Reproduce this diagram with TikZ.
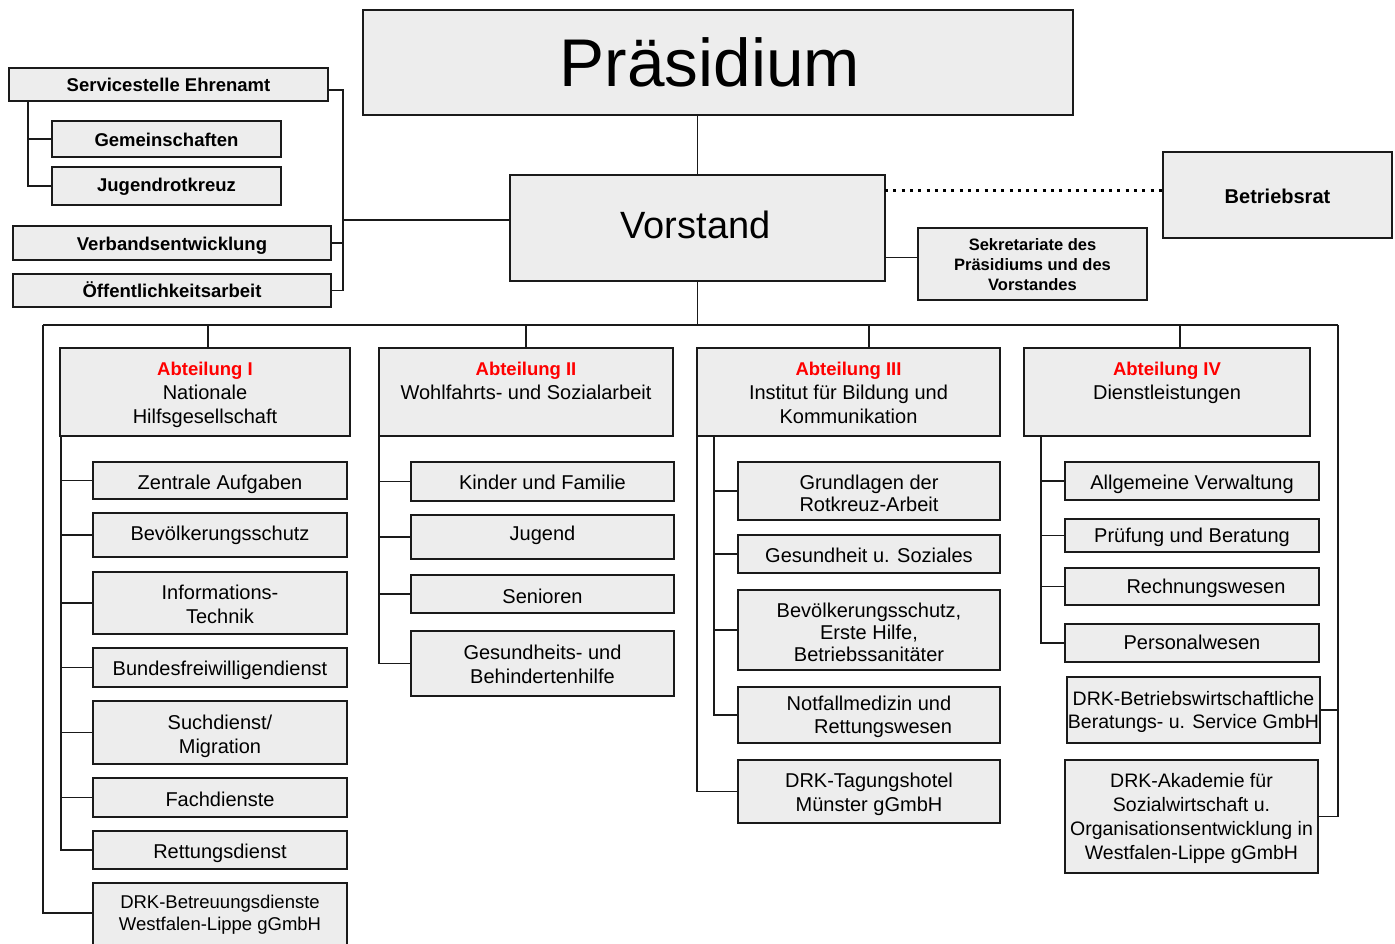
\documentclass[tikz,border=0pt]{standalone}
\usepackage{fontspec}
\setmainfont{Liberation Sans}
\definecolor{boxfill}{HTML}{EDEDED}
\definecolor{edge}{HTML}{1A1A1A}
\definecolor{abtred}{HTML}{FF0000}
\newcommand{\abtl}[1]{{\color{abtred}\bfseries\fontsize{18.5}{24}\selectfont #1}}
\newcommand{\xtop}{\rule{0pt}{\tsH pt}}
\newcommand{\xbot}{\rule[-\tsD pt]{0pt}{0pt}}
\begin{document}
\begin{tikzpicture}[x=1pt,y=-1pt,
  toff/.code={\pgfmathsetmacro\tsH{22+#1}\pgfmathsetmacro\tsD{7.6-#1}},
  box/.style={draw=edge, fill=boxfill, line width=1.8pt, inner sep=0pt, outer sep=0pt, align=center, text=black, toff=1.5},
  wh/.style 2 args={minimum width=#1pt, minimum height=#2pt},
  conn/.style={draw=edge, line width=1.3pt},
  dotline/.style={draw=black, line width=3pt, dash pattern=on 3pt off 5.3pt},
  fsub/.style={font=\fontsize{20}{24}\selectfont},
  fsubs/.style={font=\fontsize{19.5}{23}\selectfont},
  fbold/.style={font=\bfseries\fontsize{18.5}{22}\selectfont},
]
\useasboundingbox (0,0) rectangle (1395,943);
\fill[white] (0,0) rectangle (1395,943);
\clip (0,0) rectangle (1395,943);

% top level
\node[box, wh={710}{105}, font=\fontsize{67.5}{70}\selectfont] (praes) at (718,62.5) {\hspace*{-16pt}Präsidium};
\node[box, wh={375}{106}, font=\fontsize{38}{42}\selectfont] (vorst) at (697.5,228) {\rule{0pt}{28pt}\hspace*{-4pt}Vorstand\rule[-6.4pt]{0pt}{0pt}};
\node[box, wh={229}{86}, font=\bfseries\fontsize{20}{24}\selectfont] (betr) at (1277.5,195) {\xtop Betriebsrat\xbot};
\node[box, wh={229}{72}, toff=-0.3, font=\bfseries\fontsize{16.5}{20}\selectfont] (sekr) at (1032.5,264) {\xtop Sekretariate des\\Präsidiums und des\\Vorstandes\xbot};

% left staff group
\node[box, wh={319}{33}, toff=0, fbold] (serv) at (168.5,84.5) {\xtop Servicestelle Ehrenamt\xbot};
\node[box, wh={229}{36}, toff=0.4, fbold] (gem) at (166.5,139) {\xtop Gemeinschaften\xbot};
\node[box, wh={229}{38}, toff=-1.6, fbold] (jrk) at (166.5,186) {\xtop Jugendrotkreuz\xbot};
\node[box, wh={318}{34}, toff=0.4, fbold] (verb) at (172,243) {\xtop Verbandsentwicklung\xbot};
\node[box, wh={318}{33}, toff=0, fbold] (oeff) at (172,290.5) {\xtop Öffentlichkeitsarbeit\xbot};

% departments
\node[box, wh={290}{88}, toff=0.7, fsub] (a1) at (205,392) {\xtop\abtl{Abteilung I}\\Nationale\\Hilfsgesellschaft\xbot};
\node[box, wh={294}{88}, toff=0.7, fsub] (a2) at (526,392) {\xtop\abtl{Abteilung II}\\Wohlfahrts- und Sozialarbeit\\\xbot};
\node[box, wh={303}{88}, toff=0.7, fsub] (a3) at (848.5,392) {\xtop\abtl{Abteilung III}\\Institut für Bildung und\\Kommunikation\xbot};
\node[box, wh={286}{88}, toff=0.7, fsub] (a4) at (1167,392) {\xtop\abtl{Abteilung IV}\\Dienstleistungen\\\xbot};

% Abteilung I
\node[box, wh={254}{37}, fsub] (z1) at (220,480.5) {\xtop Zentrale Aufgaben\xbot};
\node[box, wh={254}{44}, toff=-1.5, fsub] (z2) at (220,535) {\xtop Bevölkerungsschutz\xbot};
\node[box, wh={254}{62}, toff=1, fsub] (z3) at (220,603) {\xtop Informations-\\Technik\xbot};
\node[box, wh={254}{39}, toff=0.5, fsub] (z4) at (220,667.5) {\xtop Bundesfreiwilligendienst\xbot};
\node[box, wh={254}{63}, fsub] (z5) at (220,732.5) {\xtop Suchdienst/\\Migration\xbot};
\node[box, wh={254}{39}, fsub] (z6) at (220,797.5) {\xtop Fachdienste\xbot};
\node[box, wh={254}{38}, toff=1, fsub] (z7) at (220,850) {\xtop Rettungsdienst\xbot};
\node[box, wh={254}{66}, toff=-3.6, font=\fontsize{18.5}{22}\selectfont] (z8) at (220,916) {\xtop DRK-Betreuungsdienste\\Westfalen-Lippe gGmbH\xbot};

% Abteilung II
\node[box, wh={263}{39}, toff=0.5, fsub] (k1) at (542.5,481.5) {\xtop Kinder und Familie\xbot};
\node[box, wh={263}{44}, toff=-4, fsub] (k2) at (542.5,537) {\xtop Jugend\xbot};
\node[box, wh={263}{38}, toff=2, fsub] (k3) at (542.5,594) {\xtop Senioren\xbot};
\node[box, wh={263}{65}, toff=1, fsub] (k4) at (542.5,663.5) {\xtop Gesundheits- und\\Behindertenhilfe\xbot};

% Abteilung III
\node[box, wh={262}{58}, toff=2, font=\fontsize{20}{22}\selectfont] (g1) at (869,491) {\xtop Grundlagen der\\Rotkreuz-Arbeit\xbot};
\node[box, wh={262}{38}, toff=1, fsub] (g2) at (869,554) {\xtop Gesundheit u. Soziales\xbot};
\node[box, wh={262}{80}, toff=2, font=\fontsize{20}{22}\selectfont] (g3) at (869,630) {\xtop Bevölkerungsschutz,\\Erste Hilfe,\\Betriebssanitäter\xbot};
\node[box, wh={262}{56}, toff=0, font=\fontsize{20}{23}\selectfont] (g4) at (869,715) {\xtop Notfallmedizin und\\\hspace*{28pt}Rettungswesen\xbot};
\node[box, wh={262}{63}, toff=0.5, fsub] (g5) at (869,791.5) {\xtop DRK-Tagungshotel\\Münster gGmbH\xbot};

% Abteilung IV
\node[box, wh={254}{38}, toff=1, fsub] (d1) at (1192,481) {\xtop Allgemeine Verwaltung\xbot};
\node[box, wh={254}{33}, toff=0, fsub] (d2) at (1192,535.5) {\xtop Prüfung und Beratung\xbot};
\node[box, wh={254}{37}, toff=0, fsub] (d3) at (1192,586.5) {\xtop\hspace*{28pt}Rechnungswesen\xbot};
\node[box, wh={254}{38}, toff=-1, fsub] (d4) at (1192,643) {\xtop Personalwesen\xbot};
\node[box, wh={253}{66}, toff=0, fsubs] (d5) at (1193.5,710) {\xtop DRK-Betriebswirtschaftliche\\Beratungs- u. Service GmbH\xbot};
\node[box, wh={253}{113}, toff=0, font=\fontsize{19.5}{24}\selectfont] (d6) at (1191.5,816.5) {\xtop DRK-Akademie für\\Sozialwirtschaft u.\\Organisationsentwicklung in\\Westfalen-Lippe gGmbH\xbot};

% ---- connectors ----
\coordinate (lb) at (343,220);
\coordinate (sv) at (28,101);
\coordinate (busL) at (43,325);
\coordinate (busR) at (1338,325);

\draw[conn] (vorst.north |- praes.south) -- (vorst.north);
\coordinate (d0) at ([yshift=37.5pt]vorst.east);
\draw[dotline] (d0) -- (d0 -| betr.west);
\coordinate (s0) at ([yshift=6.5pt]sekr.west);
\draw[conn] (s0 -| vorst.east) -- (s0);

\draw[conn] ([yshift=-5.5pt]serv.east) -| (lb);
\draw[conn] (verb.east) -| (lb);
\draw[conn] (oeff.east) -| (lb);
\draw[conn] (lb) -- ([yshift=8pt]vorst.west);
\draw[conn] (sv) |- (jrk.west);
\draw[conn] (sv |- gem.west) -- (gem.west);

\draw[conn] (vorst.south) -- (vorst.south |- busL);
\draw[conn] (busL) -- (busR);
\coordinate (t1) at ([xshift=3pt]a1.north);
\coordinate (t3) at ([xshift=20.5pt]a3.north);
\coordinate (t4) at ([xshift=13pt]a4.north);
\draw[conn] (t1 |- busL) -- (t1);
\draw[conn] (a2.north |- busL) -- (a2.north);
\draw[conn] (t3 |- busL) -- (t3);
\draw[conn] (t4 |- busL) -- (t4);

% Abt I branches
\coordinate (v1) at ([xshift=1pt]a1.south west);
\draw[conn] (v1) |- (z7.west);
\foreach \n in {z1,z2,z3,z4,z5,z6} \draw[conn] (v1 |- \n.west) -- (\n.west);
\draw[conn] (busL) |- ([yshift=3pt]z8.west);

% Abt II branches
\coordinate (v2) at (a2.south west);
\draw[conn] (v2) |- (k4.west);
\foreach \n in {k1,k2,k3} \draw[conn] (v2 |- \n.west) -- (\n.west);

% Abt III branches
\coordinate (v3) at ([xshift=17pt]a3.south west);
\coordinate (w3) at (a3.south west);
\draw[conn] (v3) |- (g4.west);
\foreach \n in {g1,g2,g3} \draw[conn] (v3 |- \n.west) -- (\n.west);
\draw[conn] (w3) |- (g5.west);

% Abt IV branches
\coordinate (v4) at ([xshift=17pt]a4.south west);
\draw[conn] (v4) |- (d4.west);
\foreach \n in {d1,d2,d3} \draw[conn] (v4 |- \n.west) -- (\n.west);
\draw[conn] (busR) |- (d6.east);
\draw[conn] (d5.east) -- (d5.east -| busR);
\end{tikzpicture}
\end{document}
